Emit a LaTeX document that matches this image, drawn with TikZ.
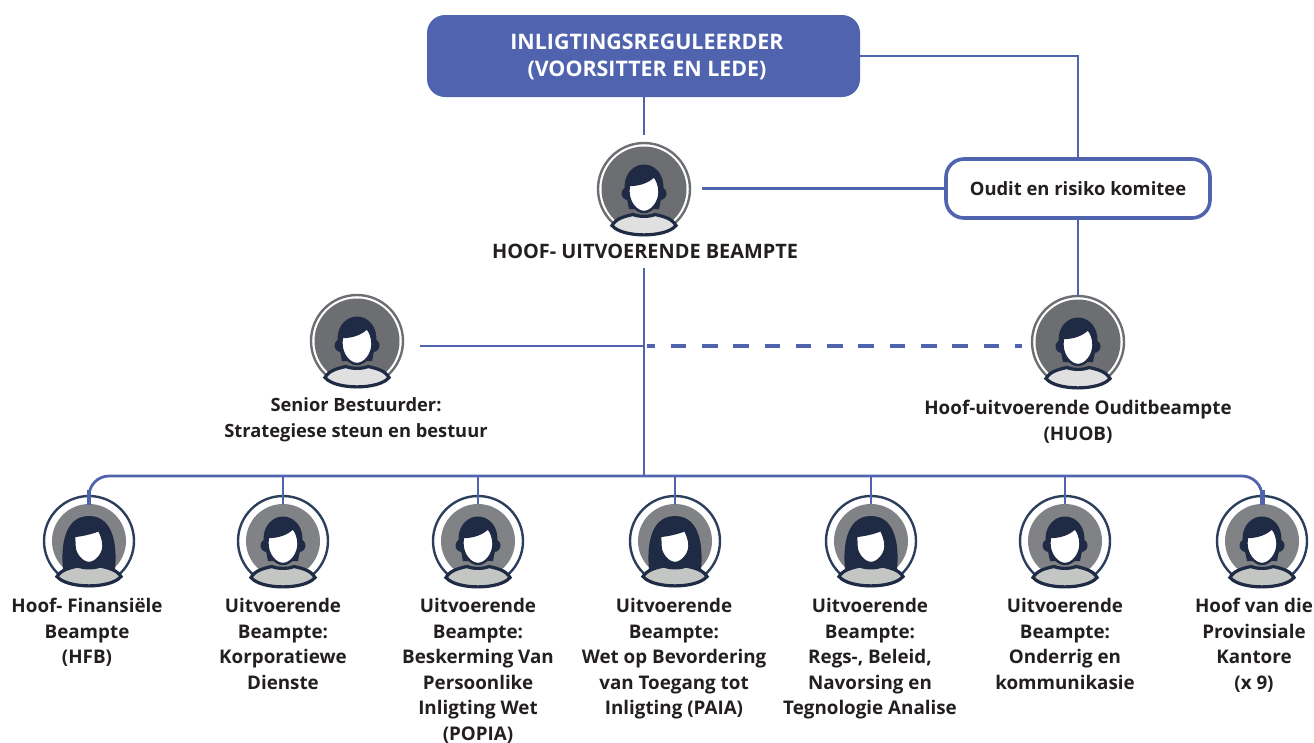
\documentclass[tikz,border=0pt]{standalone}
\usepackage{fontspec}
\setmainfont{Open Sans}
\usetikzlibrary{calc}
\definecolor{blueA}{HTML}{4F63AE}
\definecolor{navy}{HTML}{1F2A44}
\definecolor{ringT}{HTML}{6D6E71}
\definecolor{ringB}{HTML}{2B3F5C}
\definecolor{discB}{HTML}{808285}
\definecolor{bodyT}{HTML}{E0E0E0}
\definecolor{bodyB}{HTML}{C4C6C4}
\definecolor{txt}{HTML}{231F20}
\tikzset{
  x=1pt,y=-1pt,
  conn/.style={draw=blueA,line width=2.8pt},
  dashconn/.style={draw=blueA,line width=3.4pt,dash pattern=on 15.65pt off 15.65pt,dash phase=7.7pt},
  headbox/.style={draw=none,fill=blueA,rounded corners=18pt,minimum width=433pt,minimum height=82pt,inner sep=0pt},
  headtxt/.style={text=white,align=center,inner sep=0pt,font=\fontsize{21.4}{27}\selectfont\bfseries},
  commbox/.style={draw=blueA,fill=white,line width=3.6pt,rounded corners=18pt,minimum width=264pt,minimum height=59pt,inner sep=0pt,
    text=txt,font=\fontsize{18.4}{25}\selectfont\bfseries},
  lab/.style={anchor=north,align=center,inner sep=0pt,text=txt,font=\fontsize{18.8}{25.6}\selectfont\bfseries},
  avaT/.style={circle,draw=ringT,line width=2.4pt,fill=white,minimum size=92pt,inner sep=0pt},
  avaB/.style={circle,draw=ringB,line width=2.4pt,fill=white,minimum size=90pt,inner sep=0pt},
  pics/man/.style={code={
    \fill[navy] (-16,4.5) circle[radius=6.5];
    \fill[navy] (16,4.5) circle[radius=6.5];
    \fill[navy] (-19.5,-2) .. controls (-19.5,-16) and (-10,-24.5) .. (0,-24.5)
       .. controls (10,-24.5) and (19.5,-16) .. (19.5,-2) -- (15,20) -- (-15,20) -- cycle;
    \draw[navy,line width=2.4pt,fill=white] (-15,-4) .. controls (-5,-4) and (4,-7) .. (10,-13)
       .. controls (13.5,-9) and (15.5,-3) .. (15.5,3)
       .. controls (15.5,13) and (8,23) .. (0,23)
       .. controls (-8,23) and (-15.5,13) .. (-15.5,3) .. controls (-15.5,0) and (-15.5,-2) .. (-15,-4) -- cycle;
    \draw[navy,line width=3.2pt,fill=#1] (-32,36.5) .. controls (-28,29.5) and (-20,27.5) .. (-11,25.5)
       .. controls (-5,28) and (5,28) .. (11,25.5)
       .. controls (20,27.5) and (28,29.5) .. (32,36.5)
       .. controls (22,49) and (-22,49) .. (-32,36.5) -- cycle;
  }},
  pics/woman/.style={code={
    \fill[navy] (-26,28) .. controls (-28,8) and (-26,-25) .. (0,-25)
       .. controls (26,-25) and (28,8) .. (26,28) -- cycle;
    \draw[navy,line width=2.4pt,fill=white] (-15,-5) .. controls (-6,-6) and (3,-8) .. (10,-11)
       .. controls (12.5,-6) and (14.5,-1) .. (14.5,5)
       .. controls (14.5,13) and (7,22) .. (0,22)
       .. controls (-7,22) and (-14.5,13) .. (-14.5,5) .. controls (-14.5,1) and (-15,-2) .. (-15,-5) -- cycle;
    \draw[navy,line width=3.2pt,fill=#1] (-32,35.5) .. controls (-28,29) and (-20,27) .. (-11,25)
       .. controls (-5,27.5) and (5,27.5) .. (11,25)
       .. controls (20,27) and (28,29) .. (32,35.5)
       .. controls (22,48) and (-22,48) .. (-32,35.5) -- cycle;
  }},
}
\newcommand\topavatar[2]{%
  \node[avaT] (#1) at (#2) {};
  \fill[ringT] (#1.center) circle[radius=42.5];
  \begin{scope}[shift={(#1.center)}]\pic{man=bodyT};\end{scope}}
\newcommand\botavatar[3]{%
  \node[avaB] (#1) at (#2) {};
  \fill[discB] (#1.center) circle[radius=37];
  \begin{scope}[shift={(#1.center)}]\pic{#3=bodyB};\end{scope}}
\begin{document}
\begin{tikzpicture}
\useasboundingbox (0,0) rectangle (1314,742);
% nodes
\node[headbox] (reg) at (643.5,56) {};
\node[headtxt] (regtxt) at (647,57) {INLIGTINGSREGULEERDER\\(VOORSITTER EN LEDE)};
\node[commbox] (comm) at (1078,188.5) {Oudit en risiko komitee};
\topavatar{ceo}{644,189}
\topavatar{senior}{357,341}
\topavatar{audit}{1078,342}
\botavatar{a}{89,541}{woman}
\botavatar{b}{283,541}{man}
\botavatar{c}{478,541}{man}
\botavatar{d}{675,541}{woman}
\botavatar{e}{871,541}{woman}
\botavatar{f}{1065,541}{man}
\botavatar{g}{1262,541}{man}
% labels
\node[lab,font=\fontsize{19.9}{25.5}\selectfont\bfseries] (lceo) at (645,244) {HOOF- UITVOERENDE BEAMPTE};
\node[lab,font=\fontsize{18.3}{26}\selectfont\bfseries] (lsen) at (356,397.5) {Senior Bestuurder:\\Strategiese steun en bestuur};
\node[lab] (laud) at (1078,400) {Hoof-uitvoerende Ouditbeampte\\(HUOB)};
\node[lab] (la) at (87,598) {Hoof- Finansiële\\Beampte\\(HFB)};
\node[lab] (lb) at (283,598) {Uitvoerende\\Beampte:\\Korporatiewe\\Dienste};
\node[lab] (lc) at (478,598) {Uitvoerende\\Beampte:\\Beskerming Van\\Persoonlike\\Inligting Wet\\(POPIA)};
\node[lab] (ld) at (674,598) {Uitvoerende\\Beampte:\\Wet op Bevordering\\van Toegang tot\\Inligting (PAIA)};
\node[lab] (le) at (870,598) {Uitvoerende\\Beampte:\\Regs-, Beleid,\\Navorsing en\\Tegnologie Analise};
\node[lab] (lf) at (1065,598) {Uitvoerende\\Beampte:\\Onderrig en\\kommunikasie};
\node[lab] (lg) at (1254,598) {Hoof van die\\Provinsiale\\Kantore\\(x 9)};
% connector ends
\coordinate (ceoTop) at (644,135);
\coordinate (ceoRight) at (702,188.5);
\coordinate (ceoDown) at (644,268);
\coordinate (bus) at (644,476);
\coordinate (senRight) at (420,346);
\coordinate (junction) at (644,346);
\coordinate (dashStart) at (647,346);
\coordinate (audLeft) at (1022,346);
\coordinate (regRight) at (860,56);
\coordinate (corner) at (1078,56);
\coordinate (audTop) at (1078,297);
% connectors
\draw[conn] (reg.south -| ceoTop) -- (ceoTop);
\draw[conn] (regRight) -- (corner) -- (comm.north);
\draw[conn] (ceoRight) -- (comm.west);
\draw[conn] (comm.south) -- (audTop);
\draw[conn] (ceoDown) -- (bus);
\draw[conn] (senRight) -- (junction);
\draw[dashconn] (dashStart) -- (audLeft);
\draw[conn,rounded corners=20pt] ($(a)+(0,-37)$) -- (a |- bus) -- (g |- bus) -- ($(g)+(0,-37)$);
\draw[draw=blueA,line width=4.4pt] ($(a)+(0,-36)$) -- ($(a)+(0,-51)$);
\draw[draw=blueA,line width=4.4pt] ($(g)+(0.5,-36)$) -- ($(g)+(0.5,-51)$);
\foreach \n in {b,c,d,e,f} \draw[conn] (\n |- bus) -- ($(\n)+(0,-37)$);
\end{tikzpicture}
\end{document}
